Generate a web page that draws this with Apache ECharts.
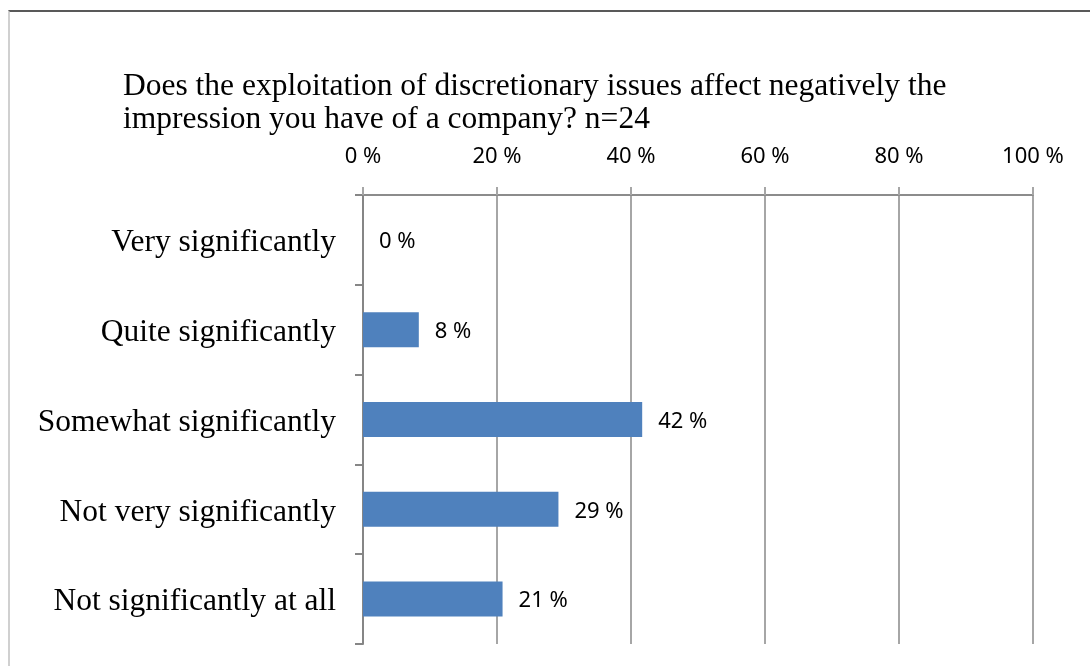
<!DOCTYPE html>
<html>
<head>
<meta charset="utf-8">
<script src="https://cdn.jsdelivr.net/npm/echarts@6/dist/echarts.min.js"></script>
<style>
html,body{margin:0;padding:0;background:#fff;}
#frame{position:absolute;left:8px;top:10px;width:1082px;height:656px;border-top:2px solid #595959;border-left:2px solid #d0d0d0;box-sizing:border-box;}
#chart{position:absolute;left:0;top:0;width:1090px;height:666px;}
</style>
</head>
<body>
<div id="frame"></div>
<div id="chart"></div>
<script>
var titleText = 'Does the exploitation of discretionary issues affect negatively the\nimpression you have of a company? n=24';
var categories = ['Very significantly', 'Quite significantly', 'Somewhat significantly', 'Not very significantly', 'Not significantly at all'];
var values = [0, 8.33, 41.67, 29.17, 20.83];
var valueLabels = ['0 %', '8 %', '42 %', '29 %', '21 %'];
var xTicks = [0, 20, 40, 60, 80, 100];

var chart = echarts.init(document.getElementById('chart'), null, {renderer: 'canvas'});
chart.setOption({
  backgroundColor: 'transparent',
  animation: false,
  title: {
    text: titleText,
    left: 123,
    top: 70,
    padding: 0,
    textStyle: {fontFamily: 'Liberation Serif', fontSize: 31.5, fontWeight: 'normal', color: '#000', lineHeight: 33}
  },
  grid: {left: 363, right: 57, top: 195, bottom: 22, containLabel: false},
  xAxis: {
    type: 'value',
    position: 'top',
    min: xTicks[0],
    max: xTicks[xTicks.length - 1],
    interval: 20,
    axisLine: {show: true, lineStyle: {color: '#8c8c8c', width: 2}},
    axisTick: {show: true, length: 8, inside: false, lineStyle: {color: '#a6a6a6', width: 2}},
    splitLine: {show: true, lineStyle: {color: '#a6a6a6', width: 2}},
    axisLabel: {margin: 27, fontFamily: 'Noto Sans', fontSize: 22, color: '#000', formatter: '{value} %'}
  },
  yAxis: {
    type: 'category',
    inverse: true,
    data: categories,
    axisLine: {show: true, lineStyle: {color: '#868686', width: 2}},
    axisTick: {show: true, length: 8, lineStyle: {color: '#868686', width: 2}},
    axisLabel: {margin: 27, verticalAlign: 'top', lineHeight: 6, fontFamily: 'Liberation Serif', fontSize: 31.5, color: '#000'}
  },
  series: [{
    type: 'bar',
    data: values,
    barWidth: 35,
    itemStyle: {color: '#4f81bd'},
    label: {
      show: true,
      position: 'right',
      distance: 16,
      offset: [0, 2],
      fontFamily: 'Noto Sans',
      fontSize: 22,
      color: '#000',
      formatter: function (p) { return valueLabels[p.dataIndex]; }
    }
  }]
});
</script>
</body>
</html>
